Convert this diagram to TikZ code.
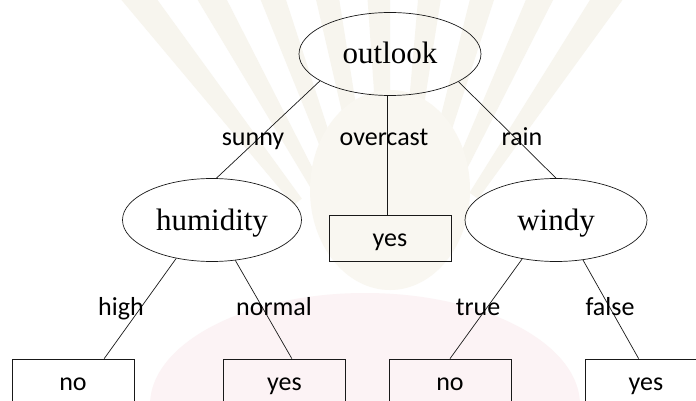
\documentclass[tikz,border=0pt]{standalone}
\usepackage{fontspec}
\setmainfont{Liberation Serif}
\newfontfamily\labelfont{Carlito}
\usetikzlibrary{shapes.geometric,calc}

\definecolor{raycream}{RGB}{247,245,238}
\definecolor{crestcream}{RGB}{249,247,241}
\definecolor{blushpink}{RGB}{252,243,245}
\definecolor{inkline}{RGB}{25,25,25}

\tikzset{
  attr/.style={ellipse, draw=inkline, line width=0.7pt, inner sep=0pt,
    font=\fontsize{31}{31}\selectfont, text height=20pt, text depth=0pt},
  leaf/.style={rectangle, draw=inkline, line width=0.7pt, inner sep=0pt,
    minimum width=122pt, minimum height=46pt,
    font=\labelfont\fontsize{26}{26}\selectfont, text height=16pt, text depth=0pt},
  branch/.style={anchor=base, inner sep=0pt,
    font=\labelfont\fontsize{26}{26}\selectfont},
  link/.style={draw=inkline, line width=0.7pt}
}

\begin{document}
\begin{tikzpicture}[x=1pt,y=-1pt]
  \clip (0,0) rectangle (696,401);
  \fill[white] (0,0) rectangle (696,401);

  % faint emblem in the background: rays, crest and lotus base
  \foreach \a in {230,239,...,306}
    \fill[raycream] (390,320) ++(\a:150) -- ++(\a:280) arc[start angle=\a, end angle=\a+4, radius=430]
      -- ($(390,320)+(\a+4:150)$) -- cycle;
  \fill[blushpink] (365,405) ellipse [x radius=215, y radius=112];
  \fill[crestcream] (390,190) ellipse [x radius=80, y radius=100];

  % decision nodes
  \node[attr, minimum width=182pt, minimum height=83pt] (outlook)  at (390,54)  {outlook};
  \node[attr, minimum width=179pt, minimum height=83pt] (humidity) at (212,220) {humidity};
  \node[attr, minimum width=182pt, minimum height=83pt] (windy)    at (556,220) {windy};

  % leaves
  \node[leaf] (overyes)  at (390,238)   {yes};
  \node[leaf] (hino)     at (73,382)    {no};
  \node[leaf] (normyes)  at (284.5,382) {yes};
  \node[leaf] (trueno)   at (450,382)   {no};
  \node[leaf] (falseyes) at (646,382)   {yes};

  % where the branches meet the leaves
  \coordinate (ovtop)   at ($(overyes.north west)!0.48!(overyes.north east)$);
  \coordinate (hitop)   at ($(hino.north west)!0.754!(hino.north east)$);
  \coordinate (nmtop)   at ($(normyes.north west)!0.56!(normyes.north east)$);
  \coordinate (fstop)   at ($(falseyes.north west)!0.44!(falseyes.north east)$);

  % branches
  \draw[link] (outlook.201.4) -- (humidity.84.6);
  \draw[link] (ovtop |- outlook.south) -- (ovtop);
  \draw[link] (outlook.338.9) -- (windy.north);
  \draw[link] (humidity.227.2) -- (hitop);
  \draw[link] (humidity.300.3) -- (nmtop);
  \draw[link] (windy.229.5) -- (trueno.north);
  \draw[link] (windy.304.3) -- (fstop);

  % branch labels
  \node[branch] (lsunny)    at (253,146) {sunny};
  \node[branch] (lovercast) at (384,146) {overcast};
  \node[branch] (lrain)     at (522,146) {rain};
  \node[branch] (lhigh)     at (121,315) {high};
  \node[branch] (lnormal)   at (274,315) {normal};
  \node[branch] (ltrue)     at (478,315) {true};
  \node[branch] (lfalse)    at (610,315) {false};
\end{tikzpicture}
\end{document}
